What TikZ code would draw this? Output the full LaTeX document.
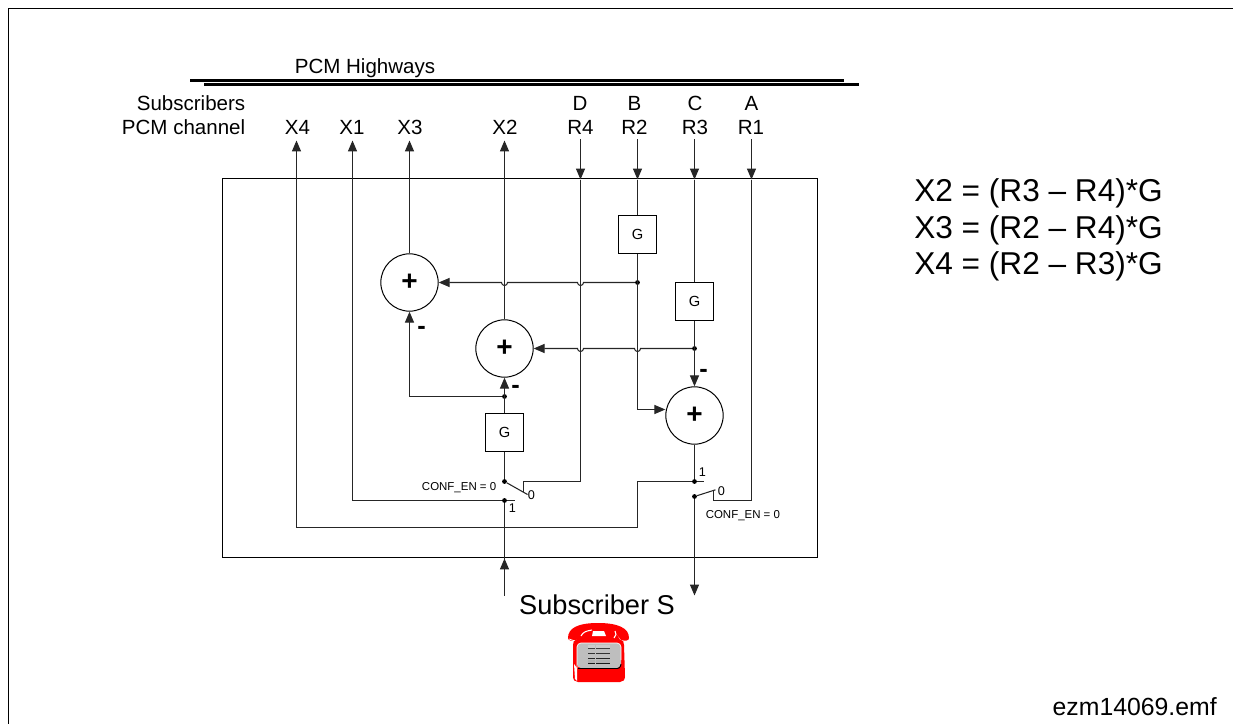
\documentclass[tikz,border=0pt]{standalone}
\usepackage{fontspec}
\setmainfont{Liberation Sans}
\usetikzlibrary{arrows.meta}
\definecolor{phred}{RGB}{255,0,0}
\definecolor{phgrey}{RGB}{190,190,190}
\newcommand{\fsz}[1]{\fontsize{#1}{#1}\selectfont}
\newcommand{\plusmark}{\raisebox{-1.5pt}{+}}
\tikzset{
  x=0.75pt,y=-0.75pt,
  wire/.style={line width=0.8pt,draw=black!85},
  arr/.style={wire,-{Triangle[length=8.2pt,width=6.8pt]}},
  frame/.style={draw=black,line width=0.9pt},
  boxline/.style={draw=black,line width=0.7pt},
  highway/.style={draw=black,line width=2.3pt},
  sumnode/.style={circle,draw=black,line width=0.75pt,fill=white,minimum size=43pt,inner sep=0pt,font=\fsz{21}\bfseries},
  gbox/.style={rectangle,draw=black,line width=0.75pt,fill=white,minimum size=28.5pt,inner sep=0pt,font=\fsz{11}},
  dotnode/.style={circle,fill=black,minimum size=3.6pt,inner sep=0pt},
  big/.style={font=\fsz{15.4},inner sep=0pt},
  eqn/.style={font=\fsz{23.7},inner sep=0pt,anchor=west},
  small/.style={font=\fsz{8.6},inner sep=0pt},
  swn/.style={font=\fsz{9.5},inner sep=0pt},
  minus/.style={font=\fsz{19}\bfseries,inner sep=0pt},
}
\begin{document}
\begin{tikzpicture}
\useasboundingbox (0,0) rectangle (1233,724);
% outer frame
\coordinate (fa) at (8.5,724); \coordinate (fb) at (8.5,8.5); \coordinate (fc) at (1233,8.5);
\draw[frame] (fa) -- (fb) -- (fc);
% highways
\coordinate (h1a) at (190,80.8); \coordinate (h1b) at (844,80.8);
\coordinate (h2a) at (204,84.8); \coordinate (h2b) at (859,84.8);
\draw[highway] (h1a) -- (h1b);
\draw[highway] (h2a) -- (h2b);
\node[big] (title) at (365,68.5) {PCM Highways};
\node[big,anchor=east] (subs) at (245.5,103) {Subscribers};
\node[big,anchor=east] (pcm) at (245.5,127) {PCM channel};
% channel labels
\node[big] (x4) at (297.5,127) {X4};
\node[big] (x1) at (352,127) {X1};
\node[big] (x3) at (410,127) {X3};
\node[big] (x2) at (505,127) {X2};
\node[big] (r4) at (580.5,127) {R4};
\node[big] (r2) at (634.5,127) {R2};
\node[big] (r3) at (695,127) {R3};
\node[big] (r1) at (751,127) {R1};
\node[big] (ld) at (580,103) {D};
\node[big] (lb) at (634.5,103) {B};
\node[big] (lc) at (695,103) {C};
\node[big] (la) at (751.5,103) {A};
% equations
\node[eqn] (e1) at (914,193) {X2 = (R3 – R4)*G};
\node[eqn] (e2) at (914,230) {X3 = (R2 – R4)*G};
\node[eqn] (e3) at (914,266) {X4 = (R2 – R3)*G};
\node[font=\fsz{18.6},inner sep=0pt,anchor=east] (ref) at (1217,707) {ezm14069.emf};
\begin{scope}[shift={(0.5,0.5)}]
% block
\coordinate (b1) at (222,178); \coordinate (b2) at (817,557);
\draw[boxline] (b1) rectangle (b2);
% elements
\node[sumnode] (s1) at (409,282) {\plusmark};
\node[sumnode] (s2) at (504,348) {\plusmark};
\node[sumnode] (s3) at (694,415) {\plusmark};
\node[gbox] (g1) at (637,233.5) {G};
\node[gbox] (g2) at (694,300.5) {G};
\node[gbox] (g3) at (504,431.5) {G};
% junctions
\node[dotnode] (d1) at (637,282) {};
\node[dotnode] (d2) at (694,348) {};
\node[dotnode] (d3) at (504,396) {};
\node[dotnode] (d4) at (504,481) {};
\node[dotnode] (d5) at (504,500) {};
\node[dotnode] (d6) at (694,481) {};
\node[dotnode] (d7) at (694,496) {};
% top arrows
\coordinate (tx4) at (296,140); \coordinate (tx1) at (352,140); \coordinate (tx3) at (409,140); \coordinate (tx2) at (504,140);
\coordinate (tr4) at (580,139); \coordinate (tr2) at (637,139); \coordinate (tr3) at (694,139); \coordinate (tr1) at (751,139);
\coordinate (ar4) at (580,179); \coordinate (ar2) at (637,179); \coordinate (ar3) at (694,179); \coordinate (ar1) at (751,179);
% outputs
\draw[arr] (s1.north) -- (tx3);
\draw[arr] (s2.north) -- (tx2);
\coordinate (c1) at (352,500);
\coordinate (sw1) at (514,500);
\draw[wire] (sw1) -- (d5);
\draw[arr] (d5) -- (c1) -- (tx1);
\coordinate (c2a) at (637,481); \coordinate (c2b) at (637,527); \coordinate (c2c) at (296,527);
\coordinate (sw2) at (703,481);
\draw[wire] (sw2) -- (d6);
\draw[arr] (d6) -- (c2a) -- (c2b) -- (c2c) -- (tx4);
% inputs
\draw[arr] (tr4) -- (ar4);
\draw[arr] (tr2) -- (ar2);
\draw[arr] (tr3) -- (ar3);
\draw[arr] (tr1) -- (ar1);
\draw[wire] (ar2) -- (g1.north);
\draw[wire] (ar3) -- (g2.north);
% R4 to switch
\coordinate (c3a) at (580,481); \coordinate (c3b) at (523,481); \coordinate (c3c) at (523,491); \coordinate (c3d) at (527,494);
\draw[wire] (ar4) -- (c3a) -- (c3b) -- (c3c);
\draw[wire] (d4) -- (c3d);
\node[swn] (l0a) at (531,495) {0};
\node[swn] (l1a) at (512,508) {1};
\node[small,anchor=east] (cf1) at (496,487.5) {CONF\_EN = 0};
% R1 to switch
\coordinate (c4a) at (751,500); \coordinate (c4b) at (713,500); \coordinate (c4c) at (713,489);
\coordinate (c4d) at (715,489.3);
\draw[wire] (ar1) -- (c4a) -- (c4b) -- (c4c);
\draw[wire] (d7) -- (c4d);
\node[swn] (l0b) at (721,491) {0};
\node[swn] (l1b) at (702,472) {1};
\node[small,anchor=west] (cf2) at (705,515.5) {CONF\_EN = 0};
% G1 / R2 branches
\coordinate (c5) at (637,409);
\draw[arr] (g1.south) -- (c5) -- (s3.west |- c5);
\draw[arr] (d1) -- (583,282) arc[start angle=0,end angle=180,radius=3] -- (507,282) arc[start angle=0,end angle=180,radius=3] -- (s1.east);
% G2 / R3 branches
\draw[arr] (g2.south) -- (s3.north);
\draw[arr] (d2) -- (640,348) arc[start angle=0,end angle=180,radius=3] -- (583,348) arc[start angle=0,end angle=180,radius=3] -- (s2.east);
% G3 branches
\draw[wire] (d4) -- (g3.south);
\draw[arr] (g3.north) -- (s2.south);
\coordinate (c6) at (409,396);
\draw[arr] (d3) -- (c6) -- (s1.south);
\draw[wire] (s3.south) -- (d6);
% subscriber lines
\coordinate (in) at (504,595); \coordinate (inhead) at (504,558);
\draw[arr] (in) -- (inhead);
\draw[wire] (inhead) -- (d5);
\coordinate (out) at (694,595);
\draw[arr] (d7) -- (out);
% minus signs
\node[minus] (m1) at (421,330) {-};
\node[minus] (m2) at (515,388.5) {-};
\node[minus] (m3) at (703,372.5) {-};
\end{scope}
\node[font=\fsz{20.4},inner sep=0pt] (subS) at (597,605) {Subscriber S};
% telephone
\fill[phred] (568,638) .. controls (568,628) and (578,623) .. (598,623) .. controls (618,623) and (629,628) .. (629,638) .. controls (629,641) and (625,641) .. (621,640) .. controls (618,636) and (616,633) .. (612,632) -- (586,632) .. controls (582,633) and (580,636) .. (576,640) .. controls (572,641) and (568,641) .. (568,638) -- cycle;
\fill[phred] (582,630) -- (614,630) -- (622,643) -- (574,643) -- cycle;
\fill[white] (593,631) -- (604,631) -- (606,636) -- (592,636) -- cycle;
\draw[white,line width=0.8pt] (581,636) .. controls (583,632) and (586,631) .. (592,630);
\draw[white,line width=0.8pt] (615,631) .. controls (617,633) and (616,636) .. (614,638);
\draw[white,line width=0.5pt] (569,639) -- (575,641);
\fill[phred] (576,640) -- (621,640) .. controls (623,640) and (624,642) .. (624,645) -- (625,676) .. controls (625,680) and (623,682) .. (620,682) -- (578,682) .. controls (575,682) and (573,680) .. (573,676) -- (573,645) .. controls (573,642) and (574,640) .. (576,640) -- cycle;
\fill[white] (574,664) -- (577,668) -- (577,681) -- (575,679) -- cycle;
\fill[phgrey,rounded corners=3pt] (577,643) rectangle (621,668);
\draw[white,line width=0.5pt,rounded corners=3pt] (577,668) -- (577,643) -- (621,643) -- (621,660);
\draw[black,line width=0.7pt,rounded corners=2pt] (578,668.5) -- (620,668.5) -- (621,664);
\foreach \yy/\topsh/\botsh in {645/20/75,650/25/80,655/25/85,660/30/90}{
  \foreach \xx in {587.5,595.5,603}{
    \fill[black!\topsh] (\xx,\yy) rectangle +(7,3.2);
    \fill[black!\botsh] (\xx,\yy+3.2) rectangle +(7,1.2);
  }
}
\end{tikzpicture}
\end{document}
